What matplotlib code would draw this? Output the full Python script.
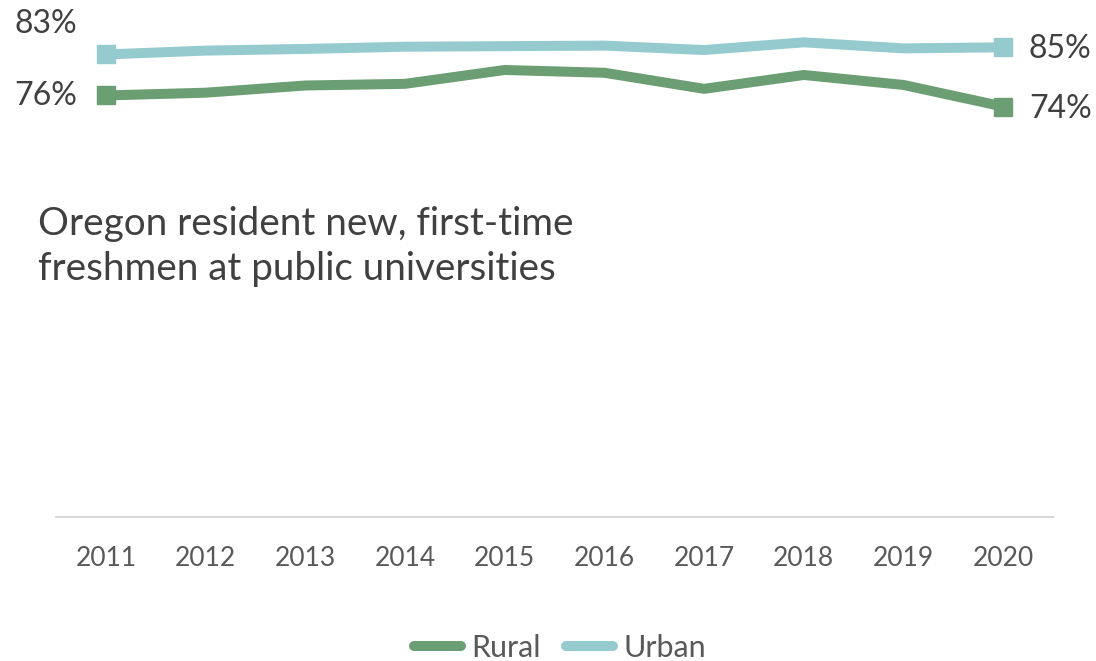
import matplotlib.pyplot as plt
from matplotlib.lines import Line2D

plt.rcParams['font.family'] = ['Lato', 'DejaVu Sans']

years = ["2011", "2012", "2013", "2014", "2015", "2016", "2017", "2018", "2019", "2020"]
rural = [76.0, 76.5, 77.8, 78.1, 80.6, 80.1, 77.2, 79.7, 77.9, 74.0]
urban = [83.4, 84.1, 84.4, 84.8, 84.9, 85.0, 84.2, 85.6, 84.5, 84.7]

green = "#6b9e72"
blue = "#95cbcf"
text_col = "#404040"

fig = plt.figure(figsize=(10.96, 6.61), dpi=100)
ax = fig.add_axes([0.0511, 0.2186, 0.9097, 0.7543])

x = list(range(len(years)))
ax.plot(x, urban, color=blue, lw=7.2, marker="s", markersize=13.5,
        markevery=[0, len(x) - 1], solid_joinstyle="miter")
ax.plot(x, rural, color=green, lw=7.2, marker="s", markersize=13.5,
        markevery=[0, len(x) - 1], solid_joinstyle="miter")

# end labels
ax.annotate(f"{urban[0]:.0f}%", (x[0], urban[0]), xytext=(-43, 22), textcoords="offset points",
            ha="center", va="center", fontsize=23, color=text_col)
ax.annotate(f"{rural[0]:.0f}%", (x[0], rural[0]), xytext=(-43, -0.5), textcoords="offset points",
            ha="center", va="center", fontsize=23, color=text_col)
ax.annotate(f"{urban[-1]:.0f}%", (x[-1], urban[-1]), xytext=(41, -1.5), textcoords="offset points",
            ha="center", va="center", fontsize=23, color=text_col)
ax.annotate(f"{rural[-1]:.0f}%", (x[-1], rural[-1]), xytext=(41, -1.5), textcoords="offset points",
            ha="center", va="center", fontsize=23, color=text_col)

ax.set_xlim(-0.5, len(years) - 0.5)
ax.set_ylim(0, 90)
ax.set_xticks(x)
ax.set_xticklabels(years, fontsize=19, color="#595959")
ax.tick_params(axis="x", length=0, pad=21)
ax.set_yticks([])
for s in ["top", "right", "left"]:
    ax.spines[s].set_visible(False)
ax.spines["bottom"].set_color("#d9d9d9")
ax.spines["bottom"].set_linewidth(1.5)

fig.text(38 / 1096, 1 - 206 / 661, "Oregon resident new, first-time\nfreshmen at public universities",
         fontsize=27.8, color=text_col, ha="left", va="top", linespacing=1.32)

handles = [Line2D([], [], color=green, lw=7.2, solid_capstyle="round"),
           Line2D([], [], color=blue, lw=7.2, solid_capstyle="round")]
fig.legend(handles, ["Rural", "Urban"], loc="center", bbox_to_anchor=(0.511, 0.0197),
           ncol=2, frameon=False, fontsize=22, handlelength=1.54, handletextpad=0.33,
           columnspacing=0.82, labelcolor="#595959")

fig.savefig("out.png", dpi=100)
